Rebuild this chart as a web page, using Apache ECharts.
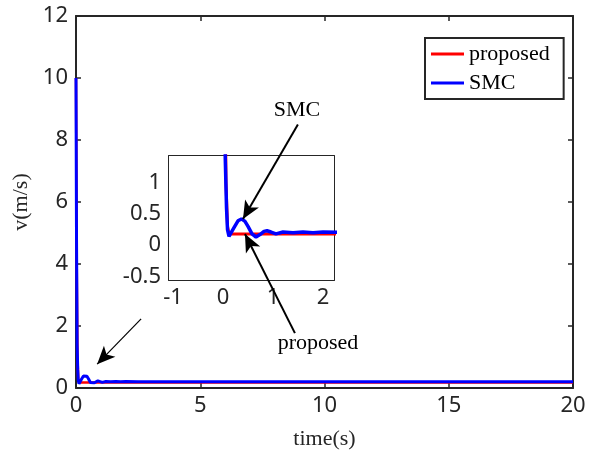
<!DOCTYPE html>
<html>
<head>
<meta charset="utf-8">
<script src="https://cdn.jsdelivr.net/npm/echarts@6/dist/echarts.min.js"></script>
<style>
  html, body { margin: 0; padding: 0; background: #fff; }
  #chart { width: 600px; height: 462px; }
</style>
</head>
<body>
<div id="chart"></div>
<script>
// 数据
const propT = [0, 0.03, 0.06, 0.09, 0.12, 0.5, 1, 2, 5, 10, 20]
const propV = [10, 4, 1, 0.3, 0.18, 0.18, 0.18, 0.18, 0.18, 0.18, 0.18]
const smcT = [0, 0.02, 0.045, 0.07, 0.09, 0.12, 0.16, 0.22, 0.3, 0.37, 0.44, 0.5, 0.58, 0.66, 0.74, 0.82, 0.88, 0.96, 1.06, 1.2, 1.4, 1.6, 1.8, 2.0, 2.5, 5, 10, 20]
const smcV = [10, 5, 1.4, 0.6, 0.25, 0.14, 0.16, 0.28, 0.39, 0.42, 0.38, 0.3, 0.18, 0.13, 0.17, 0.22, 0.23, 0.21, 0.18, 0.21, 0.2, 0.21, 0.2, 0.21, 0.2, 0.2, 0.2, 0.2]
const legendNames = ['proposed', 'SMC']

// 箭头 (主坐标系)
const arrowSMC = [[8.93, 8.5], [6.72, 5.45]]
const arrowProp = [[8.81, 1.77], [6.8, 4.97]]
const arrowZoom = [[2.62, 2.23], [0.85, 0.77]]

const zip = (t, v) => t.map((x, i) => [x, v[i]])
const axisColor = '#262626'
const sans = 'Noto Sans'
const serif = 'Liberation Serif'

function axisBase (gridIndex, position, min, max, extra) {
  return Object.assign({
    type: 'value',
    gridIndex: gridIndex,
    position: position,
    min: min,
    max: max,
    axisLine: { show: true, onZero: false, lineStyle: { color: axisColor, width: 2 } },
    axisTick: { show: true, inside: true, length: 5, lineStyle: { color: axisColor, width: 1.5 } },
    splitLine: { show: false },
    axisLabel: { show: false }
  }, extra)
}

const label = (size, extra) => Object.assign({
  show: true, color: '#262626', fontFamily: sans, fontSize: size
}, extra)

function arrow (seg, width, size) {
  return [
    { coord: seg[0], symbol: 'none', lineStyle: { color: '#000', width: width, type: 'solid' } },
    { coord: seg[1], symbol: 'arrow', symbolSize: size }
  ]
}

const chart = echarts.init(document.getElementById('chart'))
const option = {
  animation: false,
  backgroundColor: '#fff',
  grid: [
    { left: 76, top: 16, right: 27, bottom: 74 },
    { left: 169, top: 156, width: 165, height: 124, show: true, backgroundColor: '#fff', borderWidth: 0, z: 3 }
  ],
  legend: {
    data: legendNames,
    orient: 'vertical',
    left: 425,
    top: 38,
    padding: [5, 14, 5, 6],
    itemWidth: 33,
    itemHeight: 3,
    itemGap: 7,
    icon: 'rect',
    borderColor: axisColor,
    borderWidth: 2,
    backgroundColor: '#fff',
    textStyle: { fontFamily: serif, fontSize: 22, color: '#000' }
  },
  xAxis: [
    axisBase(0, 'bottom', 0, 20, {
      interval: 5,
      name: 'time(s)',
      nameLocation: 'middle',
      nameGap: 40,
      nameTextStyle: { fontFamily: serif, fontSize: 22, color: '#262626' },
      axisLabel: label(22, { margin: 7 })
    }),
    axisBase(0, 'top', 0, 20, { interval: 5 }),
    axisBase(1, 'bottom', -1.08, 2.22, {
      splitNumber: 3,
      axisLabel: label(22, { margin: 7, showMinLabel: false, showMaxLabel: false })
    }),
    axisBase(1, 'top', -1.08, 2.22, { splitNumber: 3 })
  ],
  yAxis: [
    axisBase(0, 'left', 0, 12, {
      interval: 2,
      name: 'v(m/s)',
      nameLocation: 'middle',
      nameGap: 40,
      nameTextStyle: { fontFamily: serif, fontSize: 22, color: '#262626' },
      axisLabel: label(22, { margin: 8 })
    }),
    axisBase(0, 'right', 0, 12, { interval: 2 }),
    axisBase(1, 'left', -0.56, 1.43, {
      splitNumber: 4,
      axisLabel: label(22, { margin: 8, showMinLabel: false, showMaxLabel: false })
    }),
    axisBase(1, 'right', -0.56, 1.43, { splitNumber: 4 })
  ],
  series: [
    {
      name: 'proposed', type: 'line', xAxisIndex: 0, yAxisIndex: 0,
      data: zip(propT, propV), showSymbol: false, color: '#ff0000',
      lineStyle: { width: 2.5, color: '#ff0000' }
    },
    {
      name: 'SMC', type: 'line', xAxisIndex: 0, yAxisIndex: 0,
      data: zip(smcT, smcV), showSymbol: false, color: '#0000ff',
      lineStyle: { width: 3, color: '#0000ff' }
    },
    {
      name: 'proposed', type: 'line', xAxisIndex: 2, yAxisIndex: 2, z: 4,
      data: zip(propT, propV), showSymbol: false, clip: true, color: '#ff0000',
      lineStyle: { width: 3, color: '#ff0000' }
    },
    {
      name: 'SMC', type: 'line', xAxisIndex: 2, yAxisIndex: 2, z: 4,
      data: zip(smcT, smcV), showSymbol: false, clip: true, color: '#0000ff',
      lineStyle: { width: 3.5, color: '#0000ff' }
    },
    // 标注箭头
    {
      name: 'annot', type: 'line', xAxisIndex: 0, yAxisIndex: 0, z: 10,
      data: [], showSymbol: false,
      markLine: {
        silent: true,
        animation: false,
        label: { show: false },
        emphasis: { disabled: true },
        lineStyle: { color: '#000', type: 'solid' },
        data: [
          arrow(arrowSMC, 2, [12, 18]),
          arrow(arrowProp, 2, [12, 18]),
          arrow(arrowZoom, 1.2, [12, 18])
        ]
      }
    }
  ],
  graphic: [
    { type: 'text', x: 297, y: 110, z: 20, style: { text: 'SMC', font: '22px "Liberation Serif"', fill: '#000', align: 'center', verticalAlign: 'middle', textAlign: 'center', textVerticalAlign: 'middle' } },
    { type: 'text', x: 318, y: 343, z: 20, style: { text: 'proposed', font: '22px "Liberation Serif"', fill: '#000', align: 'center', verticalAlign: 'middle', textAlign: 'center', textVerticalAlign: 'middle' } }
  ]
}
chart.setOption(option)
</script>
</body>
</html>
